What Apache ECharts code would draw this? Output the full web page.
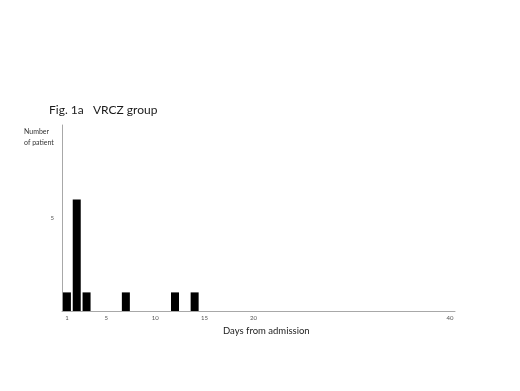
<!DOCTYPE html>
<html>
<head>
<meta charset="utf-8">
<script src="https://cdn.jsdelivr.net/npm/echarts@6/dist/echarts.min.js"></script>
<style>html,body{margin:0;padding:0;background:#fff;}#c{width:520px;height:391px;}</style>
</head>
<body>
<div id="c"></div>
<script>
var days = [1, 2, 3, 7, 12, 14];
var patients = [1, 6, 1, 1, 1, 1];
var xTickLabels = [1, 5, 10, 15, 20, 40];
var yTickLabels = [5];

var chart = echarts.init(document.getElementById('c'), null, {renderer: 'canvas'});
var pairs = days.map(function (d, i) { return [d, patients[i]]; });
chart.setOption({
  animation: false,
  backgroundColor: '#ffffff',
  title: {
    text: 'Fig. 1a   VRCZ group',
    left: 44, top: 99,
    textStyle: {fontFamily: 'Lato', fontSize: 12, fontWeight: 'normal', color: '#1a1a1a'}
  },
  grid: {left: 62, right: 65, top: 125, bottom: 80},
  xAxis: {
    type: 'value', min: 0.5, max: 40.5,
    axisLine: {show: true, lineStyle: {color: '#a8a8a8', width: 1}},
    axisTick: {show: false},
    splitLine: {show: false},
    axisLabel: {customValues: xTickLabels, fontFamily: 'Lato', fontSize: 6, color: '#555', margin: 4}
  },
  yAxis: {
    type: 'value', min: 0, max: 10,
    axisLine: {show: true, lineStyle: {color: '#a8a8a8', width: 1}},
    axisTick: {show: false},
    splitLine: {show: false},
    axisLabel: {customValues: yTickLabels, fontFamily: 'Lato', fontSize: 6, color: '#555', margin: 8}
  },
  series: [{
    type: 'bar',
    data: pairs,
    barWidth: 8,
    itemStyle: {color: '#000000'}
  }],
  graphic: [
    {type: 'text', left: 24, top: 126, style: {text: 'Number\nof patient', fontFamily: 'Lato', fontSize: 7, lineHeight: 11, fill: '#333'}},
    {type: 'text', left: 223, top: 326, style: {text: 'Days from admission', fontFamily: 'Lato', fontSize: 9.5, fill: '#222'}}
  ]
});
</script>
</body>
</html>
